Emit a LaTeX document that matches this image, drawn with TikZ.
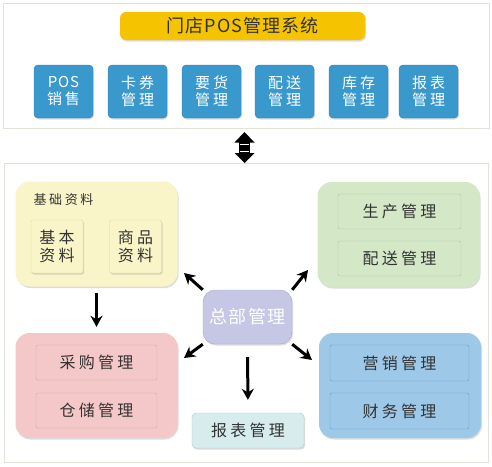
\documentclass[tikz,border=0pt]{standalone}
\usepackage{fontspec}
\newfontfamily\cjk{Noto Sans CJK SC}[LetterSpace=20]
\newfontfamily\cjktight{Noto Sans CJK SC}[LetterSpace=6]
\usetikzlibrary{arrows.meta,shadows}
\definecolor{framegray}{HTML}{E2E2DA}
\definecolor{titlebar}{HTML}{F5C300}
\definecolor{modblue}{HTML}{3A99CC}
\definecolor{modline}{HTML}{2C7DB2}
\definecolor{basefill}{HTML}{FAF5C8}
\definecolor{baseline}{HTML}{DCD5A6}
\definecolor{prodfill}{HTML}{D4E8C8}
\definecolor{prodline}{HTML}{AEC69E}
\definecolor{buyfill}{HTML}{F4C8C8}
\definecolor{buyline}{HTML}{D6A6A6}
\definecolor{salefill}{HTML}{9DC8E8}
\definecolor{saleline}{HTML}{6C9CC6}
\definecolor{hubfill}{HTML}{C5C7E5}
\definecolor{hubline}{HTML}{A6A8D0}
\definecolor{reportfill}{HTML}{D7EDED}
\definecolor{reportline}{HTML}{AFCACA}
\definecolor{inktext}{HTML}{333333}

\begin{document}
\begin{tikzpicture}[x=1pt,y=-1pt,
    frame/.style={draw=framegray,line width=0.8pt},
    softshadow/.style={drop shadow={opacity=0.28,shadow xshift=1pt,shadow yshift=-1.5pt}},
    module/.style={draw=modline,fill=modblue,rounded corners=4pt,softshadow,
      minimum width=59pt,minimum height=53pt,text=white,align=center,
      font=\cjk\fontsize{15}{17}\selectfont},
    group/.style={rounded corners=14pt,softshadow,minimum width=162pt,minimum height=105pt},
    item/.style={rounded corners=2pt,text=inktext,align=center,
      font=\cjk\fontsize{16}{18}\selectfont},
    bigarrow/.style={line width=3pt,-{Stealth[length=11pt,width=12pt]}}]
  \useasboundingbox (0,0) rectangle (492,466);
  % outer frames
  \draw[frame] (3,3) rectangle (489,128);
  \draw[frame] (4,163) rectangle (488,462);
  % store POS system
  \node[fill=titlebar,rounded corners=6pt,softshadow,minimum width=245pt,minimum height=28pt,
    text=inktext,font=\cjktight\fontsize{18}{20}\selectfont] (title) at (242.5,26) {门店POS管理系统};
  \foreach \i/\xx/\txt in {
    1/63.5/{{\cjktight POS}\\销售},
    2/137.5/{卡券\\管理},
    3/211.5/{要货\\管理},
    4/284.5/{配送\\管理},
    5/358.5/{库存\\管理},
    6/428.5/{报表\\管理}%
  }{
    \node[module] (mod\i) at (\xx,91.5) {\txt};
  }
  % two-way link between the levels
  \fill (244.5,132) -- (254.5,142.5) -- (234.5,142.5) -- cycle;
  \fill (239,142) rectangle (250,153.5);
  \fill (234.5,153) -- (254.5,153) -- (244.5,163) -- cycle;
  \draw[white,line width=1pt] (240,144.5) -- (249,144.5) (240,151.5) -- (249,151.5);
  % head office groups
  \node[group,fill=basefill] (base) at (96.5,234) {};
  \node[text=inktext,font=\cjk\fontsize{13}{15}\selectfont] (basetitle) at (63.5,199.5) {基础资料};
  \node[item,draw=baseline,fill=basefill,minimum width=52pt,minimum height=53pt,softshadow] (basic) at (57,246.5) {基本\\资料};
  \node[item,draw=baseline,fill=basefill,minimum width=52pt,minimum height=53pt,softshadow] (goods) at (135.5,246.5) {商品\\资料};

  \node[group,fill=prodfill] (prod) at (398.5,234.5) {};
  \node[item,draw=prodline,fill=prodfill,minimum width=123pt,minimum height=35pt] (make) at (399.5,211.5) {生产管理};
  \node[item,draw=prodline,fill=prodfill,minimum width=123pt,minimum height=35pt] (ship) at (399.5,258.5) {配送管理};

  \node[group,fill=buyfill] (buy) at (96.5,385.5) {};
  \node[item,draw=buyline,fill=buyfill,minimum width=121pt,minimum height=35pt] (purchase) at (96.5,362.5) {采购管理};
  \node[item,draw=buyline,fill=buyfill,minimum width=121pt,minimum height=35pt] (store) at (96.5,410.5) {仓储管理};

  \node[group,fill=salefill] (sale) at (400,385.5) {};
  \node[item,draw=saleline,fill=salefill,minimum width=139pt,minimum height=36pt] (market) at (399.5,363) {营销管理};
  \node[item,draw=saleline,fill=salefill,minimum width=139pt,minimum height=36pt] (finance) at (399.5,411) {财务管理};

  % head office hub
  \node[draw=hubline,fill=hubfill,rounded corners=12pt,softshadow,minimum width=89pt,minimum height=54pt,
    text=white,font=\cjktight\fontsize{18}{20}\selectfont] (hq) at (247.5,317) {总部管理};
  \node[item,draw=reportline,fill=reportfill,rounded corners=4pt,softshadow,minimum width=112pt,minimum height=35pt] (report) at (248,430.5) {报表管理};

  % arrows
  \coordinate (nwtip) at (184,273);
  \coordinate (netip) at (308,270);
  \coordinate (swtip) at (184,358);
  \coordinate (setip) at (312,360);
  \draw[bigarrow] (hq.north west) -- (nwtip);
  \draw[bigarrow] (hq.north east) -- (netip);
  \draw[bigarrow] (hq.south west) -- (swtip);
  \draw[bigarrow] (hq.south east) -- (setip);
  \draw[bigarrow,shorten <=13pt,shorten >=13pt] (hq.south) -- (report.north);
  \draw[bigarrow,shorten <=6pt,shorten >=6pt] (base.south) -- (buy.north);
\end{tikzpicture}
\end{document}
